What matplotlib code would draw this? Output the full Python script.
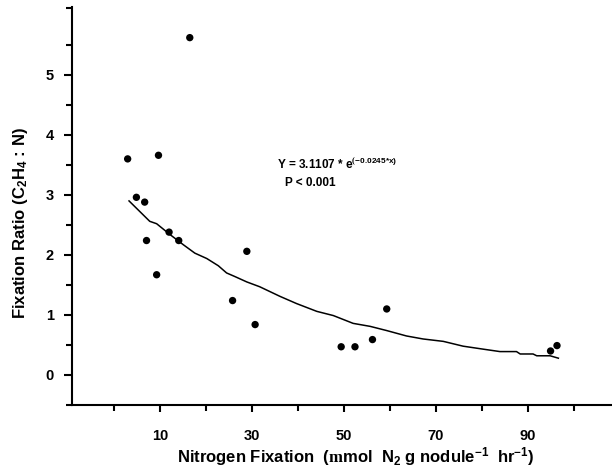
#! /usr/bin/env python3
# -*- coding: utf-8 -*-
import matplotlib
matplotlib.use('Agg')
import matplotlib.pyplot as plt
from matplotlib.ticker import FixedLocator

plt.rcParams['font.family'] = ['Liberation Sans', 'DejaVu Sans']
plt.rcParams['font.weight'] = 'bold'
plt.rcParams['mathtext.fontset'] = 'custom'
plt.rcParams['mathtext.rm'] = 'Liberation Sans:bold'
plt.rcParams['mathtext.it'] = 'Liberation Sans:bold'
plt.rcParams['mathtext.bf'] = 'Liberation Sans:bold'
plt.rcParams['mathtext.sf'] = 'Liberation Serif'

# measured points
n_fix = [3.0, 9.7, 16.5, 4.9, 6.7, 7.1, 9.3, 12.0, 14.1, 28.9, 25.8, 30.7,
         49.4, 52.4, 56.2, 59.3, 94.9, 96.3]
ratio = [3.60, 3.66, 5.62, 2.96, 2.88, 2.24, 1.67, 2.38, 2.24, 2.06, 1.24, 0.84,
         0.47, 0.47, 0.59, 1.10, 0.40, 0.49]

# fitted curve as drawn
fit_x = [3.3, 7.8, 9.3, 12.2, 15.1, 17.6, 20.2, 22.7, 24.5, 26.3, 28.9, 31.7,
         36.1, 39.7, 44.1, 47.7, 52.0, 55.7, 59.3, 63.6, 67.2, 71.6, 75.9,
         80.3, 83.9, 87.5, 88.3, 91.1, 91.9, 94.8, 96.6]
fit_y = [2.90, 2.56, 2.52, 2.34, 2.17, 2.03, 1.94, 1.82, 1.70, 1.64, 1.55, 1.47,
         1.31, 1.19, 1.06, 0.99, 0.86, 0.81, 0.74, 0.65, 0.60, 0.56, 0.48,
         0.43, 0.39, 0.39, 0.35, 0.35, 0.32, 0.32, 0.28]

x_major = [10, 30, 50, 70, 90]
x_minor = [0, 20, 40, 60, 80, 100]
y_major = [0, 1, 2, 3, 4, 5]
y_minor = [-0.5, 0.5, 1.5, 2.5, 3.5, 4.5, 5.5, 6.12]


def main():
    fig = plt.figure(figsize=(6.12, 4.68), dpi=100)
    ax = fig.add_axes([0.1176, 0.1346, 0.882, 0.8504])

    ax.plot(fit_x, fit_y, color='black', lw=1.1, zorder=2)
    ax.scatter(n_fix, ratio, s=28, color='black', edgecolors='none', zorder=3)

    ax.set_xlim(-9.1, 108.2)
    ax.set_ylim(-0.5, 6.13)

    ax.xaxis.set_major_locator(FixedLocator(x_major))
    ax.xaxis.set_minor_locator(FixedLocator(x_minor))
    ax.yaxis.set_major_locator(FixedLocator(y_major))
    ax.yaxis.set_minor_locator(FixedLocator(y_minor))

    for s in ['top', 'right']:
        ax.spines[s].set_visible(False)
    for s in ['left', 'bottom']:
        ax.spines[s].set_linewidth(1.5)

    ax.tick_params(axis='y', which='major', length=6, width=1.5, pad=7, labelsize=10.5)
    ax.tick_params(axis='y', which='minor', length=4, width=1.5)
    ax.tick_params(axis='x', which='major', length=5, width=1.5, pad=12, labelsize=10.5)
    ax.tick_params(axis='x', which='minor', length=4, width=1.5)

    ax.set_ylabel('Fixation Ratio (C$_2$H$_4$ : N)', fontsize=12, fontweight='bold',
                  va='center')
    ax.yaxis.set_label_coords(-0.096, 0.457)
    ax.set_xlabel('Nitrogen Fixation  ($\\mathsf{m}$mol  N$_2$ g nodule$^{-1}$  hr$^{-1}$)',
                  fontsize=12, fontweight='bold', va='center')
    ax.xaxis.set_label_coords(0.526, -0.13)

    ax.text(0.379, 0.605, 'Y = 3.1107 * e$^{\\mathsf{(}\\!-\\!0.0245{*}x)}$',
            transform=ax.transAxes, fontsize=8.5, fontweight='bold', va='center')
    ax.text(0.395, 0.558, 'P < 0.001', transform=ax.transAxes,
            fontsize=8.5, fontweight='bold', va='center')

    fig.savefig('out.png', dpi=100)
    return


if __name__ == '__main__':
    main()
